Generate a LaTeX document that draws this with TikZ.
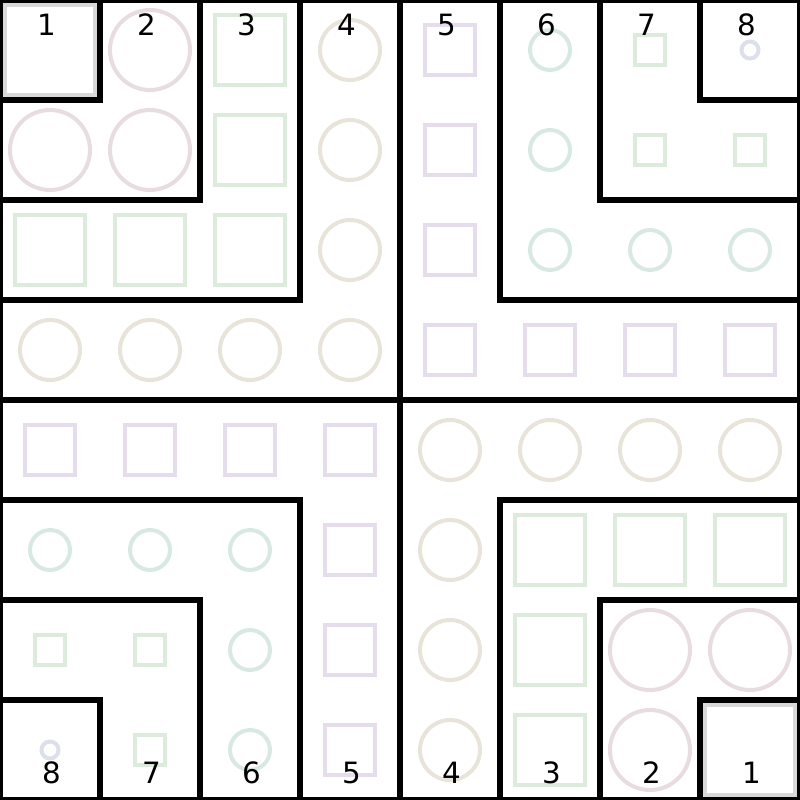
\documentclass[tikz,border=0pt]{standalone}
\usepackage{fontspec}
\setmainfont{DejaVu Sans}

\definecolor{ringgray}{RGB}{216,216,216}
\definecolor{ringpink}{RGB}{232,220,222}
\definecolor{ringgreen}{RGB}{221,235,221}
\definecolor{ringbeige}{RGB}{233,228,218}
\definecolor{ringpurple}{RGB}{229,220,236}
\definecolor{ringteal}{RGB}{216,232,226}
\definecolor{ringblue}{RGB}{219,224,234}

\tikzset{every picture/.style={line width=0.75pt}}
\tikzset{
  wall/.style={line width=4.5pt, color=black},
  tile/.style={line width=3pt},
  cellnum/.style={inner sep=0pt, anchor=center, font=\fontsize{22}{26}\selectfont},
}

\begin{document}
\begin{tikzpicture}[x=0.75pt,y=0.75pt,yscale=-1,xscale=1]
\useasboundingbox (0,0) rectangle (800,800);

%Shape: Square (1)
\draw [tile, color=ringgray] (5,5) rectangle (95,95) (705,705) rectangle (795,795);
%Shape: Circle (2)
\draw [tile, color=ringpink] (150,50) circle (40) (50,150) circle (40) (150,150) circle (40)
  (650,650) circle (40) (750,650) circle (40) (650,750) circle (40);
%Shape: Square (3)
\draw [tile, color=ringgreen] (215,15) rectangle (285,85) (215,115) rectangle (285,185) (215,215) rectangle (285,285)
  (15,215) rectangle (85,285) (115,215) rectangle (185,285);
\draw [tile, color=ringgreen] (515,515) rectangle (585,585) (515,615) rectangle (585,685) (515,715) rectangle (585,785)
  (615,515) rectangle (685,585) (715,515) rectangle (785,585);
%Shape: Circle (4)
\draw [tile, color=ringbeige] (350,50) circle (30) (350,150) circle (30) (350,250) circle (30) (350,350) circle (30)
  (50,350) circle (30) (150,350) circle (30) (250,350) circle (30);
\draw [tile, color=ringbeige] (450,450) circle (30) (550,450) circle (30) (650,450) circle (30) (750,450) circle (30)
  (450,550) circle (30) (450,650) circle (30) (450,750) circle (30);
%Shape: Square (5)
\draw [tile, color=ringpurple] (425,25) rectangle (475,75) (425,125) rectangle (475,175) (425,225) rectangle (475,275) (425,325) rectangle (475,375)
  (525,325) rectangle (575,375) (625,325) rectangle (675,375) (725,325) rectangle (775,375);
\draw [tile, color=ringpurple] (25,425) rectangle (75,475) (125,425) rectangle (175,475) (225,425) rectangle (275,475) (325,425) rectangle (375,475)
  (325,525) rectangle (375,575) (325,625) rectangle (375,675) (325,725) rectangle (375,775);
%Shape: Circle (6)
\draw [tile, color=ringteal] (550,50) circle (20) (550,150) circle (20) (550,250) circle (20) (650,250) circle (20) (750,250) circle (20);
\draw [tile, color=ringteal] (50,550) circle (20) (150,550) circle (20) (250,550) circle (20) (250,650) circle (20) (250,750) circle (20);
%Shape: Square (7)
\draw [tile, color=ringgreen] (635,35) rectangle (665,65) (635,135) rectangle (665,165) (735,135) rectangle (765,165);
\draw [tile, color=ringgreen] (35,635) rectangle (65,665) (135,635) rectangle (165,665) (135,735) rectangle (165,765);
%Shape: Circle (8)
\draw [tile, color=ringblue] (750,50) circle (8.5) (50,750) circle (8.5);

%Straight Lines (walls)
\draw [wall] (0,0) rectangle (800,800);
\draw [wall] (400,0) -- (400,800) (0,400) -- (800,400);
\draw [wall] (100,0) -- (100,100) -- (0,100) (200,0) -- (200,200) -- (0,200) (300,0) -- (300,300) -- (0,300);
\draw [wall] (700,0) -- (700,100) -- (800,100) (600,0) -- (600,200) -- (800,200) (500,0) -- (500,300) -- (800,300);
\draw [wall] (100,800) -- (100,700) -- (0,700) (200,800) -- (200,600) -- (0,600) (300,800) -- (300,500) -- (0,500);
\draw [wall] (700,800) -- (700,700) -- (800,700) (600,800) -- (600,600) -- (800,600) (500,800) -- (500,500) -- (800,500);

% Text Node
\node [cellnum] (top1) at (46.5,25) {1};
\node [cellnum] (top2) at (146.5,25) {2};
\node [cellnum] (top3) at (246.5,25) {3};
\node [cellnum] (top4) at (346.5,25) {4};
\node [cellnum] (top5) at (446.5,25) {5};
\node [cellnum] (top6) at (546.5,25) {6};
\node [cellnum] (top7) at (646.5,25) {7};
\node [cellnum] (top8) at (746.5,25) {8};
% Text Node
\node [cellnum] (bot8) at (51.5,773) {8};
\node [cellnum] (bot7) at (151.5,773) {7};
\node [cellnum] (bot6) at (251.5,773) {6};
\node [cellnum] (bot5) at (351.5,773) {5};
\node [cellnum] (bot4) at (451.5,773) {4};
\node [cellnum] (bot3) at (551.5,773) {3};
\node [cellnum] (bot2) at (651.5,773) {2};
\node [cellnum] (bot1) at (751.5,773) {1};

\end{tikzpicture}
\end{document}
